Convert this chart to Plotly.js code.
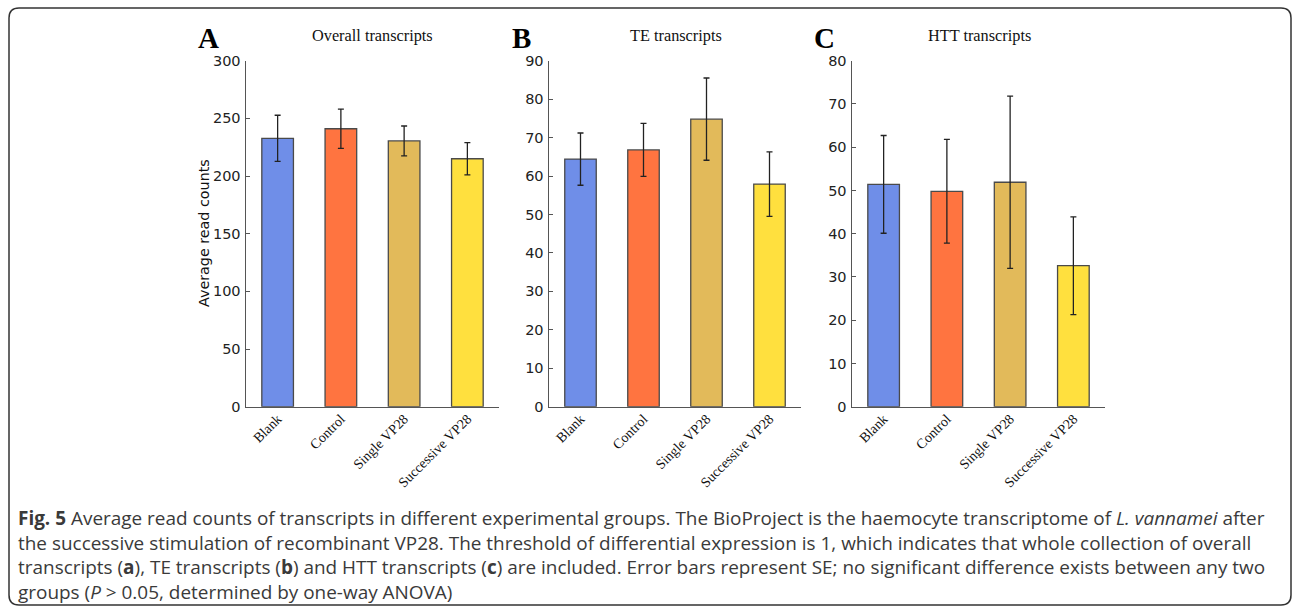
<!DOCTYPE html>
<html>
<head>
<meta charset="utf-8">
<script src="https://cdn.plot.ly/plotly-3.0.1.min.js"></script>
<style>
html,body{margin:0;padding:0;background:#fff;}
#chart{width:1292px;height:607px;}
</style>
</head>
<body>
<div id="chart"></div>
<script>
// ---- Data ----
const categories = ["Blank", "Control", "Single VP28", "Successive VP28"];
const overallMeans = [232.7, 241.0, 230.4, 215.0];
const overallSE = [20.0, 17.0, 13.0, 14.0];
const teMeans = [64.4, 66.8, 74.8, 57.9];
const teSE = [6.8, 6.9, 10.7, 8.4];
const httMeans = [51.4, 49.8, 51.9, 32.6];
const httSE = [11.3, 12.0, 19.9, 11.3];
const panelTitles = ["Overall transcripts", "TE transcripts", "HTT transcripts"];
const panelLetters = ["A", "B", "C"];
const yTitle = "Average read counts";
const captionLines = [
  "<b>Fig. 5</b> Average read counts of transcripts in different experimental groups. The BioProject is the haemocyte transcriptome of <i>L. vannamei</i> after",
  "the successive stimulation of recombinant VP28. The threshold of differential expression is 1, which indicates that whole collection of overall",
  "transcripts (<b>a</b>), TE transcripts (<b>b</b>) and HTT transcripts (<b>c</b>) are included. Error bars represent SE; no significant difference exists between any two",
  "groups (<i>P</i> &gt; 0.05, determined by one-way ANOVA)"
];

// ---- Styling ----
const W = 1292, H = 607;
const px = x => x / W;
const py = y => 1 - y / H;
const barColors = ["#6f8ee8", "#ff7440", "#e2ba5a", "#ffe03e"];
const panels = [
  {means: overallMeans, se: overallSE, x0: 246, x1: 499, yMax: 300, dtick: 50, titleX: 372, letterX: 208},
  {means: teMeans, se: teSE, x0: 549, x1: 801, yMax: 90, dtick: 10, titleX: 676, letterX: 521},
  {means: httMeans, se: httSE, x0: 852, x1: 1105, yMax: 80, dtick: 10, titleX: 979, letterX: 824}
];
const yTop = 60.7, yBottom = 406.7;
const sansFont = "DejaVu Sans";
const serifFont = "Liberation Serif";

const traces = [];
const layout = {
  width: W, height: H,
  margin: {l: 0, r: 0, t: 0, b: 0},
  paper_bgcolor: "#fff", plot_bgcolor: "#fff",
  showlegend: false,
  annotations: [],
  shapes: []
};

panels.forEach((p, i) => {
  const s = i === 0 ? "" : String(i + 1);
  traces.push({
    type: "bar",
    x: categories,
    y: p.means,
    xaxis: "x" + s, yaxis: "y" + s,
    width: 0.5,
    marker: {color: barColors, line: {color: "#4a4a4a", width: 1.3}},
    error_y: {type: "data", array: p.se, visible: true, color: "#222", thickness: 1.3, width: 3},
    hoverinfo: "x+y"
  });
  layout["xaxis" + s] = {
    domain: [px(p.x0), px(p.x1)],
    anchor: "y" + s,
    type: "category",
    range: [-0.5, 3.5],
    showline: true, linecolor: "#555", linewidth: 1.5,
    ticks: "", showgrid: false, zeroline: false,
    tickangle: -45,
    ticklabelstandoff: -3,
    tickfont: {family: serifFont, size: 14, color: "#111"},
    fixedrange: true
  };
  layout["yaxis" + s] = {
    domain: [py(yBottom), py(yTop)],
    anchor: "x" + s,
    range: [0, p.yMax],
    dtick: p.dtick,
    showline: true, linecolor: "#555", linewidth: 1.5,
    ticks: "inside", ticklen: 4, tickcolor: "#555", tickwidth: 1,
    showgrid: false, zeroline: false,
    tickfont: {family: sansFont, size: 14.5, color: "#222"},
    ticklabelstandoff: 1,
    fixedrange: true
  };
  layout.annotations.push({
    xref: "paper", yref: "paper", x: px(p.titleX), y: py(35),
    xanchor: "center", yanchor: "middle", showarrow: false,
    text: panelTitles[i],
    font: {family: serifFont, size: 16.3, color: "#111"}
  });
  layout.annotations.push({
    xref: "paper", yref: "paper", x: px(p.letterX), y: py(38),
    xanchor: "center", yanchor: "middle", showarrow: false,
    text: "<b>" + panelLetters[i] + "</b>",
    font: {family: serifFont, size: 29, color: "#000"}
  });
});

layout.annotations.push({
  xref: "paper", yref: "paper", x: px(204), y: py(233),
  xanchor: "center", yanchor: "middle", showarrow: false, textangle: -90,
  text: yTitle,
  font: {family: sansFont, size: 14.3, color: "#111"}
});

// Caption as one multi-line text block
layout.annotations.push({
  xref: "paper", yref: "paper", x: px(16), y: py(555),
  xanchor: "left", yanchor: "middle", align: "left", showarrow: false,
  text: captionLines.join("<br>"),
  font: {family: "Open Sans", size: 18.95, color: "#3a3a3a"}
});

// Rounded frame
(function () {
  const L = 9, T = 8, R = 1291, B = 605, r = 10;
  const X = v => px(v), Y = v => py(v);
  const d = `M ${X(L + r)},${Y(T)} L ${X(R - r)},${Y(T)} Q ${X(R)},${Y(T)} ${X(R)},${Y(T + r)} ` +
            `L ${X(R)},${Y(B - r)} Q ${X(R)},${Y(B)} ${X(R - r)},${Y(B)} ` +
            `L ${X(L + r)},${Y(B)} Q ${X(L)},${Y(B)} ${X(L)},${Y(B - r)} ` +
            `L ${X(L)},${Y(T + r)} Q ${X(L)},${Y(T)} ${X(L + r)},${Y(T)} Z`;
  layout.shapes.push({type: "path", xref: "paper", yref: "paper", path: d,
    line: {color: "#333", width: 1.5}, fillcolor: "rgba(0,0,0,0)", layer: "below"});
})();

Plotly.newPlot("chart", traces, layout, {displayModeBar: false, staticPlot: true});
</script>
</body>
</html>
